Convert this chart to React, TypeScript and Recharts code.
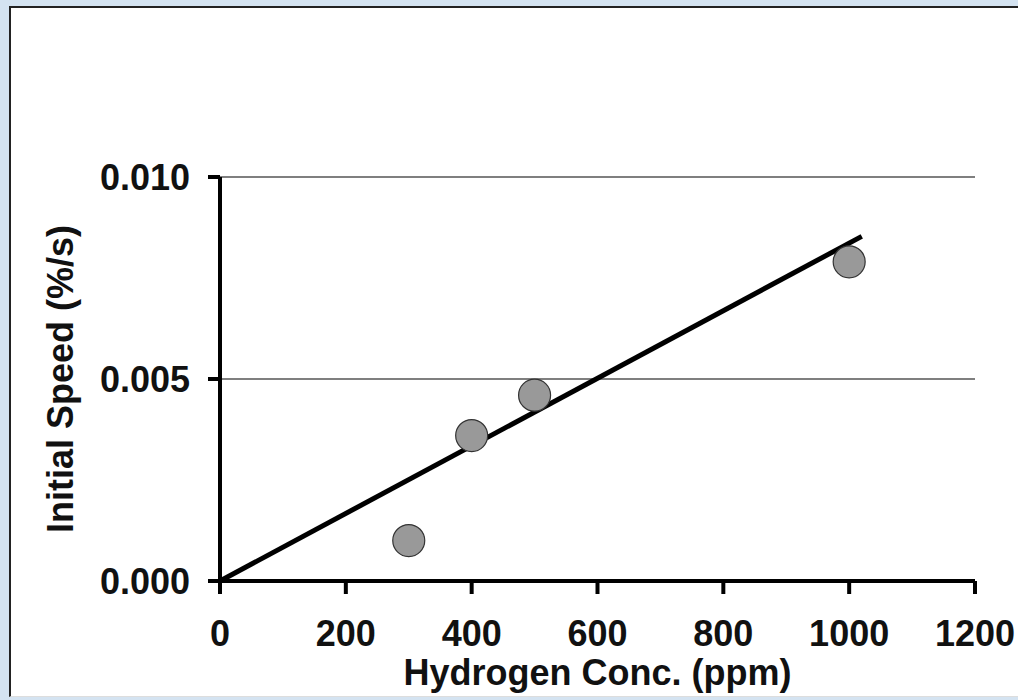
import { ScatterChart, Scatter, XAxis, YAxis, CartesianGrid } from "recharts"

const concentrations = [300, 400, 500, 1000]
const speeds = [0.001, 0.0036, 0.0046, 0.0079]
const trendX = [0, 1020]
const trendY = [0, 0.00853]
const xTicks = [0, 200, 400, 600, 800, 1000, 1200]
const yTicks = [0, 0.005, 0.01]

const points = concentrations.map((x, i) => ({ x, y: speeds[i] }))
const trend = trendX.map((x, i) => ({ x, y: trendY[i] }))

const font = "'Liberation Sans', Arial, sans-serif"
const textStyle = { fontFamily: font, fontSize: 36, fontWeight: 700, fill: "#111" }
const axisStroke = { stroke: "#000", strokeWidth: 4 }

const Dot = (props: any) => (
  <circle cx={props.cx} cy={props.cy} r={16} fill="#999999" stroke="#333" strokeWidth={1.2} />
)

export default function App() {
  return (
    <div style={{ position: "absolute", left: 0, top: 0, width: 1018, height: 700, background: "#d4e3f1", overflow: "hidden" }}>
      <div
        style={{
          position: "absolute",
          left: 9,
          top: 6,
          width: 1030,
          height: 688,
          background: "#fff",
          borderTop: "2px solid #222",
          borderLeft: "2px solid #222",
          borderBottom: "1px solid #ddd",
        }}
      />
      <div style={{ position: "absolute", left: 0, top: 0 }}>
        <ScatterChart width={1018} height={700} margin={{ top: 177, right: 43, left: 0, bottom: 0 }}>
          <CartesianGrid vertical={false} stroke="#000" strokeWidth={1.2} strokeOpacity={1} />
          <XAxis
            type="number"
            dataKey="x"
            domain={[0, 1200]}
            ticks={xTicks}
            height={119}
            axisLine={axisStroke}
            tickLine={axisStroke}
            tickSize={13}
            tickMargin={26}
            tick={textStyle}
            label={{
              value: "Hydrogen Conc. (ppm)",
              position: "insideBottom",
              offset: 15,
              style: textStyle,
            }}
          />
          <YAxis
            type="number"
            dataKey="y"
            domain={[0, 0.01]}
            ticks={yTicks}
            width={220}
            axisLine={axisStroke}
            tickLine={axisStroke}
            tickSize={12}
            tickMargin={18}
            tick={textStyle}
            tickFormatter={(v: number) => v.toFixed(3)}
            label={{
              value: "Initial Speed (%/s)",
              angle: -90,
              position: "insideLeft",
              offset: 60,
              style: { ...textStyle, textAnchor: "middle" },
            }}
          />
          <Scatter data={trend} line={{ stroke: "#000", strokeWidth: 5 }} shape={() => null} isAnimationActive={false} />
          <Scatter data={points} shape={Dot} isAnimationActive={false} />
        </ScatterChart>
      </div>
    </div>
  )
}
